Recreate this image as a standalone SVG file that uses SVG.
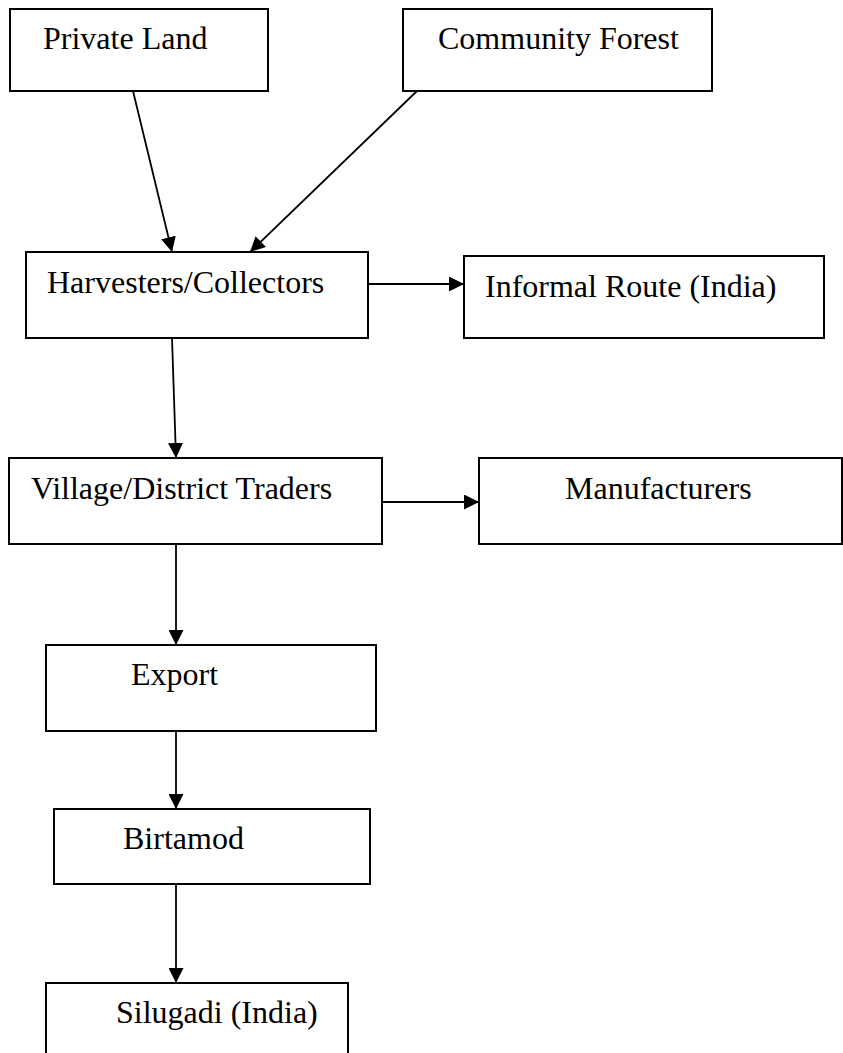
<svg xmlns="http://www.w3.org/2000/svg" width="843" height="1053" viewBox="0 0 843 1053">
<style>
.box{fill:#fff;stroke:#000;stroke-width:2}
.lbl{font-family:"Liberation Serif","Times New Roman",serif;font-size:32px;fill:#000}
.con{stroke:#000;stroke-width:1.8;fill:none;marker-end:url(#ah)}
</style>
<defs>
<marker id="ah" markerUnits="userSpaceOnUse" markerWidth="16" markerHeight="15" refX="15" refY="7.5" orient="auto">
<path d="M0,0 L15,7.5 L0,15 z" fill="#000"/>
</marker>
</defs>
<g id="n-private"><rect class="box" x="10" y="9" width="258" height="82"/><text class="lbl" x="43" y="49">Private Land</text></g>
<g id="n-community"><rect class="box" x="403" y="9" width="309" height="82"/><text class="lbl" x="438" y="49">Community Forest</text></g>
<g id="n-harvesters"><rect class="box" x="26" y="252" width="342" height="86"/><text class="lbl" x="47" y="293">Harvesters/Collectors</text></g>
<g id="n-informal"><rect class="box" x="464" y="256" width="360" height="82"/><text class="lbl" x="485" y="297">Informal Route (India)</text></g>
<g id="n-village"><rect class="box" x="9" y="458" width="373" height="86"/><text class="lbl" x="31" y="499">Village/District Traders</text></g>
<g id="n-manufacturers"><rect class="box" x="479" y="458" width="363" height="86"/><text class="lbl" x="565" y="499">Manufacturers</text></g>
<g id="n-export"><rect class="box" x="46" y="645" width="330" height="86"/><text class="lbl" x="131" y="685">Export</text></g>
<g id="n-birtamod"><rect class="box" x="54" y="809" width="316" height="75"/><text class="lbl" x="123" y="849">Birtamod</text></g>
<g id="n-silugadi"><rect class="box" x="46" y="983" width="302" height="80"/><text class="lbl" x="116" y="1023">Silugadi (India)</text></g>
<g id="connectors">
<line class="con" x1="133" y1="91" x2="172" y2="252"/>
<line class="con" x1="417" y1="91" x2="250" y2="252"/>
<line class="con" x1="368" y1="284" x2="464" y2="284"/>
<line class="con" x1="172" y1="338" x2="176" y2="458"/>
<line class="con" x1="382" y1="502" x2="479" y2="502"/>
<line class="con" x1="176" y1="544" x2="176" y2="645"/>
<line class="con" x1="176" y1="731" x2="176" y2="809"/>
<line class="con" x1="176" y1="884" x2="176" y2="983"/>
</g>
</svg>
